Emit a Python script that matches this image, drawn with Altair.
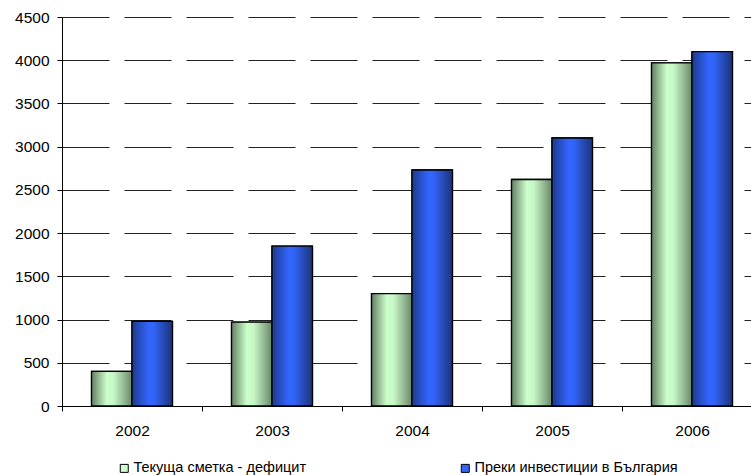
import altair as alt
import pandas as pd

years = ["2002", "2003", "2004", "2005", "2006"]
series_names = ["Текуща сметка - дефицит", "Преки инвестиции в България"]
deficit = [400, 970, 1300, 2620, 3970]
fdi = [980, 1850, 2730, 3100, 4100]
y_ticks = [0, 500, 1000, 1500, 2000, 2500, 3000, 3500, 4000, 4500]

rows = []
for i, y in enumerate(years):
    rows.append({"year": y, "series": series_names[0], "value": deficit[i]})
    rows.append({"year": y, "series": series_names[1], "value": fdi[i]})
df = pd.DataFrame(rows)

FONT = "Liberation Sans"
AXFS = 15.5

x_enc = alt.X(
    "year:N",
    sort=years,
    scale=alt.Scale(range=[0, 700], paddingInner=0, paddingOuter=0),
    axis=alt.Axis(
        title=None,
        labelAngle=0,
        tickBand="extent",
        grid=False,
        domainColor="black",
        tickColor="black",
        tickSize=5,
        labelPadding=12,
        labelFontSize=AXFS,
        labelFont=FONT,
        labelColor="black",
    ),
)
xoff_enc = alt.XOffset(
    "series:N",
    scale=alt.Scale(domain=series_names, paddingInner=0, paddingOuter=0.73),
)
y_enc = alt.Y(
    "value:Q",
    scale=alt.Scale(domain=[0, 4500], nice=False),
    axis=alt.Axis(
        title=None,
        values=y_ticks,
        format="d",
        grid=True,
        gridDash=[47, 15],
        gridColor="#222222",
        gridWidth=1,
        domainColor="black",
        tickColor="black",
        tickSize=5,
        labelPadding=8,
        labelFontSize=AXFS,
        labelFont=FONT,
        labelColor="black",
    ),
)

base = alt.Chart(df).mark_bar(stroke="black", strokeWidth=1.3).encode(
    x=x_enc,
    xOffset=xoff_enc,
    y=y_enc,
    color=alt.Color(
        "series:N",
        scale=alt.Scale(domain=series_names, range=["#ccffcc", "#3366ff"]),
        legend=alt.Legend(
            title=None,
            orient="none",
            legendX=55,
            legendY=444,
            direction="horizontal",
            symbolType="square",
            symbolSize=64,
            symbolStrokeColor="black",
            symbolStrokeWidth=1,
            symbolOpacity=1,
            labelFont=FONT,
            labelFontSize=14.5,
            labelColor="black",
            labelOffset=2,
            labelLimit=0,
            columnPadding=151,
        ),
    ),
)

green_grad = alt.Gradient(
    gradient="linear",
    x1=0, x2=1, y1=0, y2=0,
    stops=[
        alt.GradientStop(offset=0, color="#647f64"),
        alt.GradientStop(offset=0.38, color="#ccffcc"),
        alt.GradientStop(offset=0.55, color="#c6f7c6"),
        alt.GradientStop(offset=1, color="#6a876a"),
    ],
)
blue_grad = alt.Gradient(
    gradient="linear",
    x1=0, x2=1, y1=0, y2=0,
    stops=[
        alt.GradientStop(offset=0, color="#1d3a8e"),
        alt.GradientStop(offset=0.42, color="#3366ff"),
        alt.GradientStop(offset=0.55, color="#3163f5"),
        alt.GradientStop(offset=1, color="#1b3378"),
    ],
)

green_layer = alt.Chart(df).transform_filter(
    alt.datum.series == series_names[0]
).mark_bar(fill=green_grad, stroke="black", strokeWidth=1.3).encode(
    x=x_enc, xOffset=xoff_enc, y=y_enc
)
blue_layer = alt.Chart(df).transform_filter(
    alt.datum.series == series_names[1]
).mark_bar(fill=blue_grad, stroke="black", strokeWidth=1.3).encode(
    x=x_enc, xOffset=xoff_enc, y=y_enc
)

chart = alt.layer(base, green_layer, blue_layer).properties(
    width=689,
    height=389,
    autosize=alt.AutoSizeParams(type="none"),
    padding={"left": 62, "top": 17, "right": 0, "bottom": 69},
    background="white",
).configure_view(stroke=None)

chart.save("out.html", embed_options={"renderer": "svg", "actions": False})
